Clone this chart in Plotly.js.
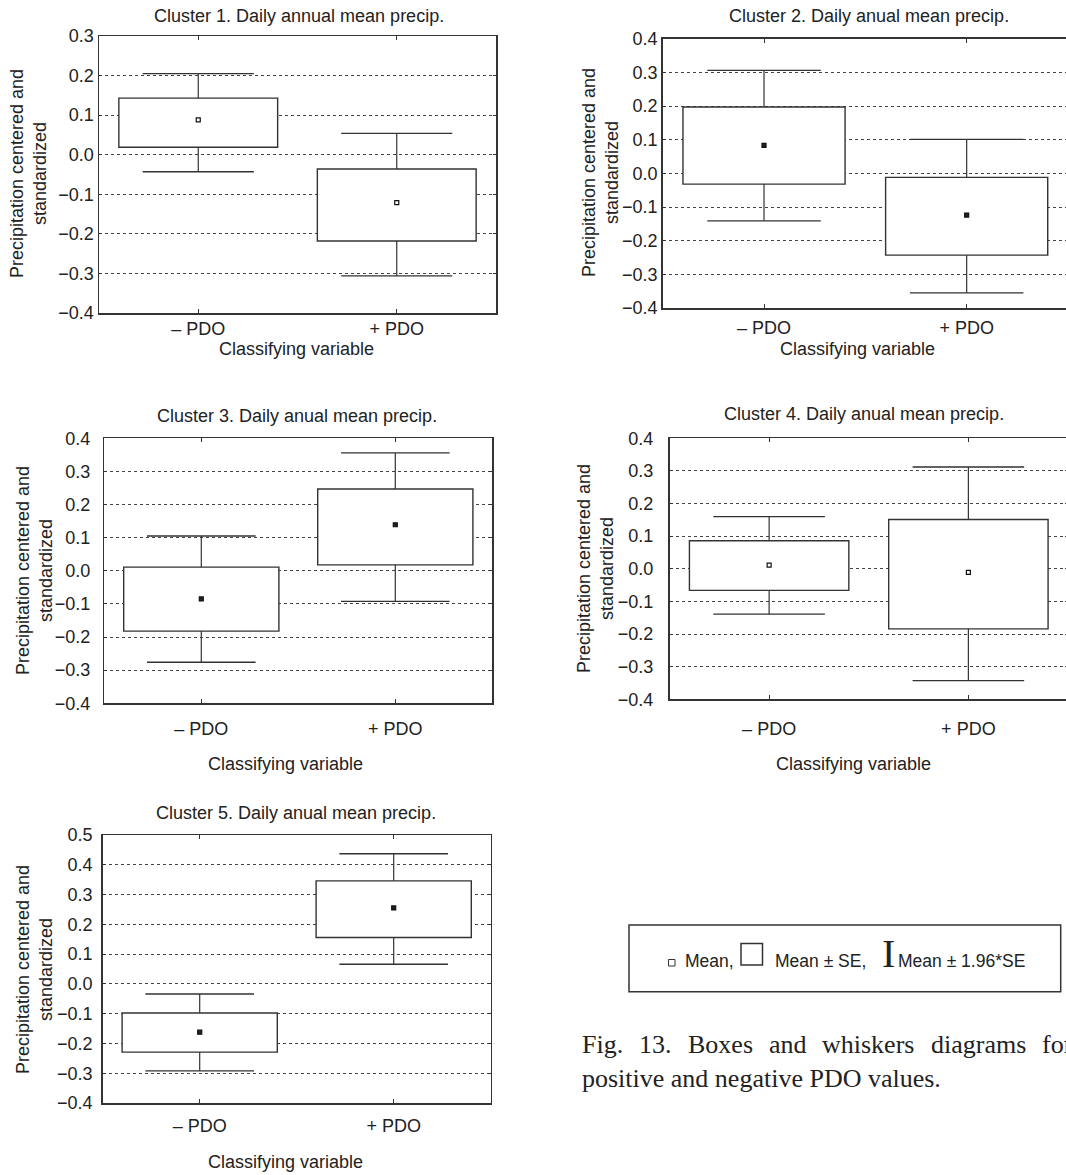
<!DOCTYPE html>
<html>
<head>
<meta charset="utf-8">
<script src="https://cdn.plot.ly/plotly-3.0.1.min.js"></script>
<style>
html,body{margin:0;padding:0;overflow:hidden;background:#fff;width:1066px;}
#wrap{position:relative;width:1066px;height:1175px;overflow:hidden;}
#chart{width:1076px;height:1175px;}
</style>
</head>
<body>
<div id="wrap"><div id="chart"></div></div>
<script>
// ---------- data ----------
const categories = ['– PDO', '+ PDO'];

const c1Mean  = [0.088, -0.121];
const c1SeLo  = [0.019, -0.218];
const c1SeHi  = [0.143, -0.036];
const c1CiLo  = [-0.043, -0.306];
const c1CiHi  = [0.205, 0.054];

const c2Mean  = [0.083, -0.124];
const c2SeLo  = [-0.032, -0.243];
const c2SeHi  = [0.197, -0.012];
const c2CiLo  = [-0.141, -0.355];
const c2CiHi  = [0.306, 0.101];

const c3Mean  = [-0.085, 0.139];
const c3SeLo  = [-0.182, 0.018];
const c3SeHi  = [0.011, 0.247];
const c3CiLo  = [-0.276, -0.092];
const c3CiHi  = [0.105, 0.356];

const c4Mean  = [0.011, -0.011];
const c4SeLo  = [-0.066, -0.184];
const c4SeHi  = [0.086, 0.151];
const c4CiLo  = [-0.139, -0.343];
const c4CiHi  = [0.160, 0.312];

const c5Mean  = [-0.162, 0.255];
const c5SeLo  = [-0.229, 0.156];
const c5SeHi  = [-0.098, 0.346];
const c5CiLo  = [-0.292, 0.066];
const c5CiHi  = [-0.034, 0.437];

const panelTitles = [
  'Cluster 1. Daily annual mean precip.',
  'Cluster 2. Daily anual mean precip.',
  'Cluster 3. Daily anual mean precip.',
  'Cluster 4. Daily anual mean precip.',
  'Cluster 5. Daily anual mean precip.'
];
const yTitle = 'Precipitation centered and<br>standardized';
const xTitle = 'Classifying variable';
const yRanges = [[-0.4, 0.3], [-0.4, 0.4], [-0.4, 0.4], [-0.4, 0.4], [-0.4, 0.5]];
const legendTexts = ['Mean,', 'Mean ± SE,', 'I', 'Mean ± 1.96*SE'];
const captionLine1 = ['Fig.', '13.', 'Boxes', 'and', 'whiskers', 'diagrams', 'for'];
const captionLine2 = 'positive and negative PDO values.';

// ---------- layout geometry (pixels) ----------
const W = 1076, H = 1175;
const px = x => x / W;
const py = y => 1 - y / H;

const panels = [
  {x:[99, 496],    y:[36, 313],     meanFill:'white', xs:-1, ys:0,
   title:[299, 16], xt:[296, 349], yt:[29, 174]},
  {x:[662.7, 1068], y:[38.7, 308],  meanFill:'#222',  xs:3,  ys:0,
   title:[869, 16], xt:[857, 349], yt:[600, 173]},
  {x:[104.3, 492.3], y:[438.3, 703.3], meanFill:'#222', xs:9, ys:9,
   title:[297, 416], xt:[285, 764], yt:[34, 571]},
  {x:[669.5, 1068], y:[438.3, 699.3], meanFill:'white', xs:13, ys:11,
   title:[864, 414], xt:[853, 764], yt:[595, 569]},
  {x:[102.7, 490.7], y:[835, 1103],  meanFill:'#222',  xs:6, ys:5,
   title:[296, 813], xt:[285, 1162], yt:[34, 970]}
];

const series = [
  [c1Mean, c1SeLo, c1SeHi, c1CiLo, c1CiHi],
  [c2Mean, c2SeLo, c2SeHi, c2CiLo, c2CiHi],
  [c3Mean, c3SeLo, c3SeHi, c3CiLo, c3CiHi],
  [c4Mean, c4SeLo, c4SeHi, c4CiLo, c4CiHi],
  [c5Mean, c5SeLo, c5SeHi, c5CiLo, c5CiHi]
];

const SANS = 'Liberation Sans, Arial, sans-serif';
const SERIF = 'Liberation Serif, Times New Roman, serif';
const INK = '#222';
const LINE = '#333';

const traces = [];
const layout = {
  width: W, height: H,
  margin: {l:0, r:0, t:0, b:0},
  paper_bgcolor: 'white', plot_bgcolor: 'white',
  showlegend: false, bargap: 0,
  font: {family: SANS, color: INK, size: 18},
  annotations: [], shapes: []
};

panels.forEach((p, i) => {
  const n = i + 1;
  const xa = 'x' + (n === 1 ? '' : n);
  const ya = 'y' + (n === 1 ? '' : n);
  const [mean, seLo, seHi, ciLo, ciHi] = series[i];
  const catPx = (p.x[1] - p.x[0]) / 2;   // pixel width of one category

  // Mean ± SE boxes
  traces.push({
    type: 'bar', x: categories, base: seLo, y: seHi.map((v, k) => v - seLo[k]),
    width: 0.8, marker: {color: 'white', line: {color: LINE, width: 1.4}},
    hoverinfo: 'skip', xaxis: xa, yaxis: ya
  });
  // whisker stems (outside the boxes)
  const wx = [], wy = [];
  categories.forEach((c, k) => {
    wx.push(c, c, null, c, c, null);
    wy.push(seHi[k], ciHi[k], null, seLo[k], ciLo[k], null);
  });
  traces.push({
    type: 'scatter', mode: 'lines', x: wx, y: wy,
    line: {color: LINE, width: 1.2}, hoverinfo: 'skip', xaxis: xa, yaxis: ya
  });
  // whisker caps (zero-length error bars give the horizontal caps)
  traces.push({
    type: 'scatter', mode: 'markers', x: categories.concat(categories), y: ciHi.concat(ciLo),
    marker: {size: 1, color: 'rgba(0,0,0,0)'},
    error_y: {type: 'data', symmetric: false, array: [0, 0, 0, 0], arrayminus: [0, 0, 0, 0],
              width: catPx * 0.28, thickness: 1.3, color: LINE},
    hoverinfo: 'skip', xaxis: xa, yaxis: ya
  });
  // means
  traces.push({
    type: 'scatter', mode: 'markers', x: categories, y: mean,
    marker: {symbol: 'square', size: 4, color: p.meanFill, line: {color: '#111', width: 1.2}},
    hoverinfo: 'skip', xaxis: xa, yaxis: ya
  });

  layout['xaxis' + (n === 1 ? '' : n)] = {
    domain: [px(p.x[0]), px(p.x[1])], anchor: ya,
    type: 'category', range: [-0.5, 1.5],
    showline: true, linecolor: LINE, linewidth: 1.5, mirror: 'ticks',
    ticks: 'inside', ticklen: 4, tickcolor: LINE, tickwidth: 1,
    showgrid: false, zeroline: false, fixedrange: true,
    tickfont: {family: SANS, size: 18, color: INK},
    ticklabelstandoff: p.xs
  };
  layout['yaxis' + (n === 1 ? '' : n)] = {
    domain: [py(p.y[1]), py(p.y[0])], anchor: xa,
    range: yRanges[i], dtick: 0.1, tick0: 0, tickformat: '.1f',
    showline: true, linecolor: LINE, linewidth: 1.5, mirror: 'ticks',
    ticks: 'inside', ticklen: 3, tickcolor: LINE, tickwidth: 1,
    showgrid: true, gridcolor: '#444', gridwidth: 1, griddash: 'dot',
    zeroline: false, fixedrange: true,
    tickfont: {family: SANS, size: 18, color: INK},
    ticklabelstandoff: p.ys
  };

  layout.annotations.push(
    {text: panelTitles[i], x: px(p.title[0]), y: py(p.title[1]), xref:'paper', yref:'paper',
     xanchor:'center', yanchor:'middle', showarrow:false, font:{family:SANS, size:18, color:INK}},
    {text: xTitle, x: px(p.xt[0]), y: py(p.xt[1]), xref:'paper', yref:'paper',
     xanchor:'center', yanchor:'middle', showarrow:false, font:{family:SANS, size:18, color:INK}},
    {text: yTitle, x: px(p.yt[0]), y: py(p.yt[1]), xref:'paper', yref:'paper', textangle: -90,
     xanchor:'center', yanchor:'middle', showarrow:false, font:{family:SANS, size:18, color:INK}}
  );
});

// ---------- legend box ----------
layout.shapes.push(
  {type:'rect', xref:'paper', yref:'paper', x0:px(629), x1:px(1060.7), y0:py(991.7), y1:py(925),
   line:{color:LINE, width:1.5}, fillcolor:'rgba(0,0,0,0)'},
  {type:'rect', xref:'paper', yref:'paper', x0:px(668.5), x1:px(675), y0:py(966), y1:py(959.5),
   line:{color:LINE, width:1}, fillcolor:'rgba(0,0,0,0)'},
  {type:'rect', xref:'paper', yref:'paper', x0:px(741), x1:px(762.5), y0:py(965), y1:py(943.5),
   line:{color:LINE, width:1.5}, fillcolor:'rgba(0,0,0,0)'}
);
const legPos = [[683, 960.5, 17.5, SANS], [773, 960.5, 17.5, SANS], [880, 953, 40, SERIF], [896, 960.5, 17.5, SANS]];
legendTexts.forEach((t, k) => {
  layout.annotations.push({text: t, x: px(legPos[k][0]), y: py(legPos[k][1]), xref:'paper', yref:'paper',
    xanchor:'left', yanchor:'middle', showarrow:false,
    font:{family: legPos[k][3], size: legPos[k][2], color: INK}});
});

// ---------- caption (justified first line, cut at the right edge as in the source) ----------
const capX = [580, 637, 686, 767, 820, 929, 1040];
captionLine1.forEach((w, k) => {
  layout.annotations.push({text: w, x: px(capX[k]), y: py(1044), xref:'paper', yref:'paper',
    xanchor:'left', yanchor:'middle', showarrow:false,
    font:{family: SERIF, size: 26, color: INK}});
});
layout.annotations.push({text: captionLine2, x: px(580), y: py(1078), xref:'paper', yref:'paper',
  xanchor:'left', yanchor:'middle', showarrow:false,
  font:{family: SERIF, size: 26, color: INK}});

Plotly.newPlot('chart', traces, layout, {staticPlot: true, displayModeBar: false});
</script>
</body>
</html>
